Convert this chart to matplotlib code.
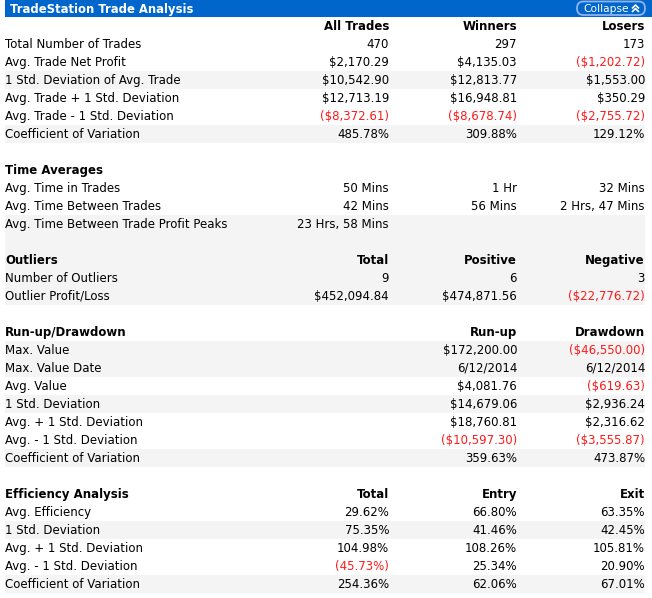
import matplotlib.pyplot as plt
from matplotlib.patches import Rectangle, FancyBboxPatch

# ================= DATA =================
summary_cols = ["All Trades", "Winners", "Losers"]
summary_labels = ["Total Number of Trades", "Avg. Trade Net Profit", "1 Std. Deviation of Avg. Trade",
                  "Avg. Trade + 1 Std. Deviation", "Avg. Trade - 1 Std. Deviation", "Coefficient of Variation"]
summary_all = ["470", "$2,170.29", "$10,542.90", "$12,713.19", "($8,372.61)", "485.78%"]
summary_win = ["297", "$4,135.03", "$12,813.77", "$16,948.81", "($8,678.74)", "309.88%"]
summary_lose = ["173", "($1,202.72)", "$1,553.00", "$350.29", "($2,755.72)", "129.12%"]

time_cols = ["", "", ""]
time_labels = ["Avg. Time in Trades", "Avg. Time Between Trades", "Avg. Time Between Trade Profit Peaks"]
time_all = ["50 Mins", "42 Mins", "23 Hrs, 58 Mins"]
time_win = ["1 Hr", "56 Mins", ""]
time_lose = ["32 Mins", "2 Hrs, 47 Mins", ""]

outlier_cols = ["Total", "Positive", "Negative"]
outlier_labels = ["Number of Outliers", "Outlier Profit/Loss"]
outlier_total = ["9", "$452,094.84"]
outlier_pos = ["6", "$474,871.56"]
outlier_neg = ["3", "($22,776.72)"]

runup_cols = ["Run-up", "Drawdown"]
runup_labels = ["Max. Value", "Max. Value Date", "Avg. Value", "1 Std. Deviation",
                "Avg. + 1 Std. Deviation", "Avg. - 1 Std. Deviation", "Coefficient of Variation"]
runup_up = ["$172,200.00", "6/12/2014", "$4,081.76", "$14,679.06", "$18,760.81", "($10,597.30)", "359.63%"]
runup_down = ["($46,550.00)", "6/12/2014", "($619.63)", "$2,936.24", "$2,316.62", "($3,555.87)", "473.87%"]

eff_cols = ["Total", "Entry", "Exit"]
eff_labels = ["Avg. Efficiency", "1 Std. Deviation", "Avg. + 1 Std. Deviation",
              "Avg. - 1 Std. Deviation", "Coefficient of Variation"]
eff_total = ["29.62%", "75.35%", "104.98%", "(45.73%)", "254.36%"]
eff_entry = ["66.80%", "41.46%", "108.26%", "25.34%", "62.06%"]
eff_exit = ["63.35%", "42.45%", "105.81%", "20.90%", "67.01%"]

# ================= LAYOUT =================
COL_X = [389, 517, 645]   # right edges of value columns
ROW_H = 18
TOP = 26
BASE = 3.9                # baseline offset below row centre
FS = 8.5
BLUE = '#0066cc'
SHADE = '#f4f4f4'
RED = '#ff1a1a'

# (title, headers, labels, value columns, which columns they go in, shaded row offsets)
sections = [
    ("", summary_cols, summary_labels, [summary_all, summary_win, summary_lose], [0, 1, 2], [3, 6]),
    ("Time Averages", time_cols, time_labels, [time_all, time_win, time_lose], [0, 1, 2], [3, 4]),
    ("Outliers", outlier_cols, outlier_labels, [outlier_total, outlier_pos, outlier_neg], [0, 1, 2], [0, 1, 2]),
    ("Run-up/Drawdown", runup_cols, runup_labels, [runup_up, runup_down], [1, 2], [1, 2, 4, 7]),
    ("Efficiency Analysis", eff_cols, eff_labels, [eff_total, eff_entry, eff_exit], [0, 1, 2], [2, 5]),
]

fig = plt.figure(figsize=(6.52, 5.98), dpi=100)
ax = fig.add_axes([0, 0, 1, 1])
ax.set_xlim(0, 652)
ax.set_ylim(598, 0)
ax.axis('off')

# title bar
ax.add_patch(Rectangle((5, 0), 647, 17, facecolor=BLUE, edgecolor='none'))
ax.text(10, 12.6, "TradeStation Trade Analysis", color='white', fontsize=8.4, fontweight='bold',
        va='baseline', ha='left')
ax.add_patch(FancyBboxPatch((577, 1.5), 68, 13.5, boxstyle="round,pad=0,rounding_size=6.5",
                            facecolor=BLUE, edgecolor='#8fb4ea', linewidth=1.3))
ax.text(583, 12.3, "Collapse", color='white', fontsize=7.7, va='baseline', ha='left')
for dy in (0, 3.5):
    ax.plot([632, 635.5, 639], [8.5 + dy, 5 + dy, 8.5 + dy], color='white', lw=1.2,
            solid_capstyle='butt')

row = 0
for title, heads, labels, cols, col_pos, shaded in sections:
    n_rows = len(labels) + 2
    for k in shaded:
        y0 = TOP + (row + k) * ROW_H - ROW_H / 2
        ax.add_patch(Rectangle((5, y0), 640, ROW_H, facecolor=SHADE, edgecolor='none', zorder=0))
    yh = TOP + row * ROW_H + BASE
    if title:
        ax.text(5, yh, title, fontsize=FS, fontweight='bold', va='baseline', ha='left')
    for h, c in zip(heads, col_pos):
        if h:
            ax.text(COL_X[c], yh, h, fontsize=FS, fontweight='bold', va='baseline', ha='right')
    for i, lab in enumerate(labels):
        y = TOP + (row + 1 + i) * ROW_H + BASE
        ax.text(5, y, lab, fontsize=FS, va='baseline', ha='left')
        for vals, c in zip(cols, col_pos):
            v = vals[i]
            if v:
                ax.text(COL_X[c], y, v, fontsize=FS, va='baseline', ha='right',
                        color=RED if v.startswith('(') else 'black')
    row += n_rows

fig.savefig("out.png", dpi=100)
